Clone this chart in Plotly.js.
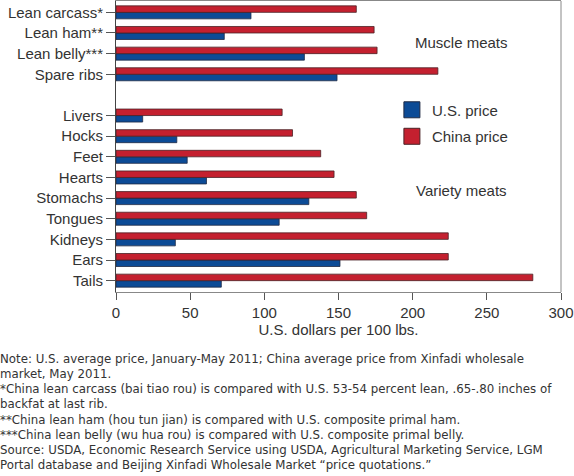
<!DOCTYPE html>
<html>
<head>
<meta charset="utf-8">
<script src="https://cdn.plot.ly/plotly-3.0.1.min.js"></script>
<style>
html,body{margin:0;padding:0;background:#fff;}
#chart{width:574px;height:476px;}
</style>
</head>
<body>
<div id="chart"></div>
<script>
// Data (top-to-bottom order within each group)
const muscleCats = ["Lean carcass*", "Lean ham**", "Lean belly***", "Spare ribs"];
const muscleUS = [91, 73, 127, 149];
const muscleChina = [162, 174, 176, 217];

const varietyCats = ["Livers", "Hocks", "Feet", "Hearts", "Stomachs", "Tongues", "Kidneys", "Ears", "Tails"];
const varietyUS = [18, 41, 48, 61, 130, 110, 40, 151, 71];
const varietyChina = [112, 119, 138, 147, 162, 169, 224, 224, 281];

const seriesNames = ["U.S. price", "China price"];
const xTicks = [0, 50, 100, 150, 200, 250, 300];
const xTitle = "U.S. dollars per 100 lbs.";
const groupLabels = ["Muscle meats", "Variety meats"];
const notes = [
  "Note: U.S. average price, January-May 2011; China average price from Xinfadi wholesale",
  "market, May 2011.",
  "*China lean carcass (bai tiao rou) is compared with U.S. 53-54 percent lean, .65-.80 inches of",
  "backfat at last rib.",
  "**China lean ham (hou tun jian) is compared with U.S. composite primal ham.",
  "***China lean belly (wu hua rou) is compared with U.S. composite primal belly.",
  "Source: USDA, Economic Research Service using USDA, Agricultural Marketing Service, LGM",
  "Portal database and Beijing Xinfadi Wholesale Market \u201cprice quotations.\u201d"
];

// Build positions: top category has highest value; one empty slot between groups
const cats = muscleCats.concat([null], varietyCats);
const usVals = muscleUS.concat([null], varietyUS);
const chinaVals = muscleChina.concat([null], varietyChina);
const n = cats.length;
const pos = cats.map((c, i) => n - 1 - i);
const tickvals = [], ticktext = [];
cats.forEach((c, i) => { if (c !== null) { tickvals.push(pos[i]); ticktext.push(c); } });

const FONT = "Liberation Sans, Arial, Helvetica, sans-serif";
const NOTEFONT = "DejaVu Sans, sans-serif";
const BLUE = "#0c4b96";
const RED = "#c4202f";
const BLUE_EDGE = "#1f2a44";
const RED_EDGE = "#4a2226";

const traces = [
  {type: "bar", orientation: "h", name: seriesNames[0], x: usVals, y: pos, showlegend: false,
   marker: {color: BLUE, line: {color: BLUE_EDGE, width: 0.8}}, hoverinfo: "x"},
  {type: "bar", orientation: "h", name: seriesNames[1], x: chinaVals, y: pos, showlegend: false,
   marker: {color: RED, line: {color: RED_EDGE, width: 0.8}}, hoverinfo: "x"},
  // legend keys for the two series
  {type: "scatter", mode: "markers", name: seriesNames[0], x: [null], y: [null], legendgroup: "us",
   marker: {symbol: "square", size: 16, color: BLUE, line: {color: BLUE_EDGE, width: 1}}},
  {type: "scatter", mode: "markers", name: seriesNames[1], x: [null], y: [null], legendgroup: "cn",
   marker: {symbol: "square", size: 16, color: RED, line: {color: RED_EDGE, width: 1}}}
];

// footnote lines, one annotation each
const plotTop = 1, plotH = 291, plotL = 116, plotW = 445;
const noteAnn = notes.map((t, i) => ({
  xref: "paper", yref: "paper",
  x: (-1 - plotL) / plotW,
  y: (plotTop + plotH - (359 + i * 15.14)) / plotH,
  xanchor: "left", yanchor: "middle", align: "left", showarrow: false, borderpad: 0,
  text: t, font: {family: NOTEFONT, size: 11.8, color: "#333"}
}));

const layout = {
  width: 574, height: 476,
  margin: {l: plotL, r: 574 - plotL - plotW, t: plotTop, b: 476 - plotTop - plotH},
  paper_bgcolor: "#fff", plot_bgcolor: "#fff",
  font: {family: FONT, size: 15, color: "#333"},
  barmode: "group", bargap: 0.37, bargroupgap: 0,
  showlegend: true,
  legend: {x: 0.62, y: 0.682, xanchor: "left", yanchor: "top", itemsizing: "trace",
           font: {family: FONT, size: 15, color: "#333"}, bgcolor: "rgba(0,0,0,0)",
           tracegroupgap: 4},
  xaxis: {range: [0, 300], tickvals: xTicks, ticks: "outside", ticklen: 7, tickcolor: "#555",
          showgrid: false, zeroline: false, showline: true, linecolor: "#888", linewidth: 1,
          mirror: true, tickfont: {family: FONT, size: 15, color: "#333"},
          title: {text: xTitle, font: {family: FONT, size: 15, color: "#333"}, standoff: 1}},
  yaxis: {range: [-0.55, n - 1 + 0.55], tickmode: "array", tickvals: tickvals, ticktext: ticktext,
          ticks: "outside", ticklen: 9, tickcolor: "#555", showgrid: false, zeroline: false,
          showline: true, linecolor: "#444", linewidth: 1, mirror: false,
          tickfont: {family: FONT, size: 15, color: "#333"}},
  shapes: [
    {type: "line", xref: "paper", yref: "paper", x0: 1, x1: 1, y0: 0, y1: 1,
     line: {color: "#888", width: 1}}
  ],
  annotations: [
    {xref: "paper", yref: "paper", x: (461.5 - plotL) / plotW, y: (plotTop + plotH - 42) / plotH,
     xanchor: "center", yanchor: "middle", text: groupLabels[0], showarrow: false,
     font: {family: FONT, size: 15, color: "#333"}},
    {xref: "paper", yref: "paper", x: (461 - plotL) / plotW, y: (plotTop + plotH - 190.5) / plotH,
     xanchor: "center", yanchor: "middle", text: groupLabels[1], showarrow: false,
     font: {family: FONT, size: 15, color: "#333"}}
  ].concat(noteAnn)
};

Plotly.newPlot("chart", traces, layout, {displayModeBar: false, staticPlot: true});
</script>
</body>
</html>
